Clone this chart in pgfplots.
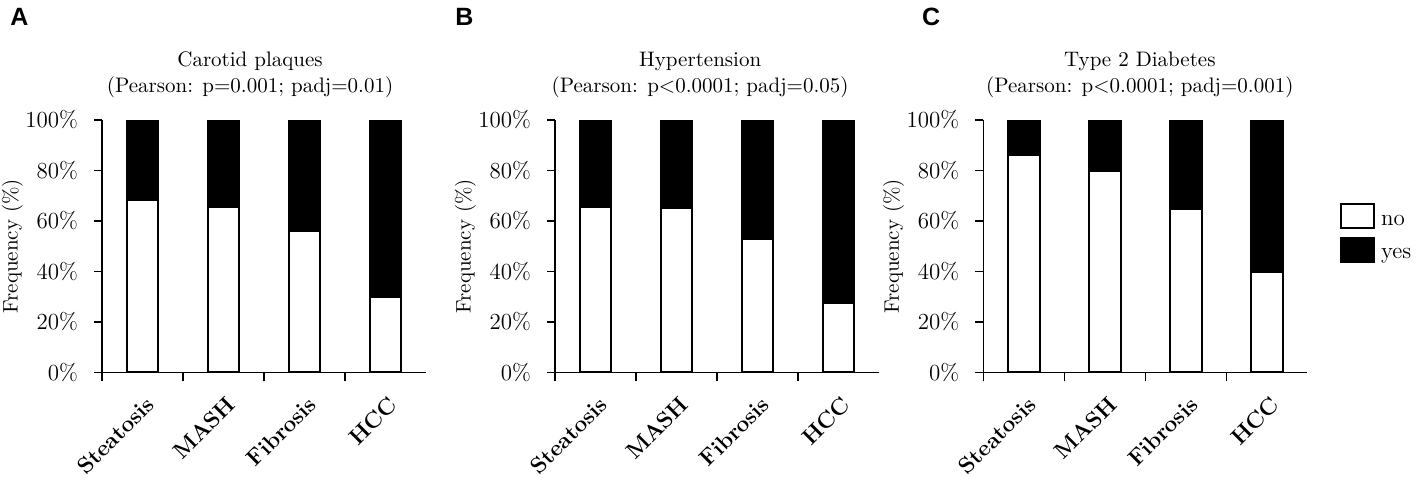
\documentclass[border=0pt]{standalone}
\usepackage{pgfplots}
\pgfplotsset{compat=1.18}
\usepackage{fontspec}
\newfontfamily\letterfont{Liberation Sans}
\pgfplotsset{
  boxlegend/.style={legend image code/.code={\draw[##1] (0pt,-3.3pt) rectangle (16.75pt,8.7pt);}},
  ybar legend/.style={legend image code/.code={\draw[##1] (0pt,-3.3pt) rectangle (16.75pt,8.7pt);}},
}
\begin{document}
\begin{tikzpicture}
\useasboundingbox (0,0) rectangle (708.5pt,239.5pt);
\pgfplotsset{
  panel/.style={
    scale only axis, width=162pt, height=126.15pt,
    anchor=south west,
    xmin=0, xmax=4, ymin=0, ymax=100,
    axis x line=bottom, axis y line=left,
    axis line style={line width=0.65pt, -},
    ybar stacked, bar width=0.39,
    xtick={0.6,1.6,2.6,3.6},
    xticklabels={Steatosis,MASH,Fibrosis,HCC},
    major x tick style={draw=none},
    minor xtick={0,1,2,3},
    minor tick length=4.5pt,
    minor x tick style={line width=0.65pt, black},
    tick align=outside,
    major tick length=4pt,
    xtick pos=left, ytick pos=left,
    ytick={0,20,40,60,80,100},
    yticklabels={0\%,20\%,40\%,60\%,80\%,100\%},
    major y tick style={line width=0.65pt, black},
    yticklabel style={font=\fontsize{11.5}{13}\selectfont},
    yticklabel shift=4.5pt,
    xticklabel style={rotate=45, anchor=east, inner sep=0pt, font=\fontsize{11.3}{13}\selectfont\bfseries},
    xticklabel shift=10pt,
    ylabel={Frequency (\%)},
    ylabel style={at={(axis description cs:-0.277,0.5)}, anchor=center, font=\fontsize{10.5}{12}\selectfont},
    title style={align=center, font=\fontsize{10.5}{13}\selectfont, anchor=south, inner sep=0pt},
    every axis plot/.append style={draw=black, line width=1pt},
  }
}
% Panel A
\begin{axis}[panel, at={(51pt,53.35pt)},
  title={Carotid plaques\\(Pearson: p=0.001; padj=0.01)},
  title style={at={(0.457,1.041)}}]
\addplot[fill=white] coordinates {(0.5,68.2) (1.5,65.5) (2.5,56.0) (3.5,30.0)};
\addplot[fill=black] coordinates {(0.5,31.8) (1.5,34.5) (2.5,44.0) (3.5,70.0)};
\end{axis}
% Panel B
\begin{axis}[panel, at={(277.5pt,53.35pt)},
  title={Hypertension\\(Pearson: p<0.0001; padj=0.05)},
  title style={at={(0.448,1.041)}}]
\addplot[fill=white] coordinates {(0.5,65.5) (1.5,65.0) (2.5,52.8) (3.5,27.3)};
\addplot[fill=black] coordinates {(0.5,34.5) (1.5,35.0) (2.5,47.2) (3.5,72.7)};
\end{axis}
% Panel C
\begin{axis}[panel, at={(491.65pt,53.35pt)},
  title={Type 2 Diabetes\\(Pearson: p<0.0001; padj=0.001)},
  title style={at={(0.483,1.041)}},
  every axis plot post/.append style={boxlegend},
  legend style={at={(1.1007,0.6698)}, anchor=north west, draw=none, fill=none,
    inner sep=0pt, outer sep=0pt, row sep=3.7pt, column sep=2.8pt,
    nodes={inner sep=0pt}, font=\fontsize{11.5}{13}\selectfont},
  legend cell align=left]
\addplot[fill=white] coordinates {(0.5,86.1) (1.5,79.9) (2.5,64.7) (3.5,39.6)};
\addplot[fill=black] coordinates {(0.5,13.9) (1.5,20.1) (2.5,35.3) (3.5,60.4)};
\addlegendimage{fill=white, draw=black, line width=1pt, boxlegend}
\addlegendentry{no}
\addlegendimage{fill=black, draw=black, line width=1pt, boxlegend}
\addlegendentry{yes}
\end{axis}
\node[anchor=base west, inner sep=0pt, font=\letterfont\bfseries\fontsize{12.5}{14}\selectfont] at (5pt,227pt) {A};
\node[anchor=base west, inner sep=0pt, font=\letterfont\bfseries\fontsize{12.5}{14}\selectfont] at (227.5pt,227pt) {B};
\node[anchor=base west, inner sep=0pt, font=\letterfont\bfseries\fontsize{12.5}{14}\selectfont] at (460.8pt,227pt) {C};
\end{tikzpicture}
\end{document}
